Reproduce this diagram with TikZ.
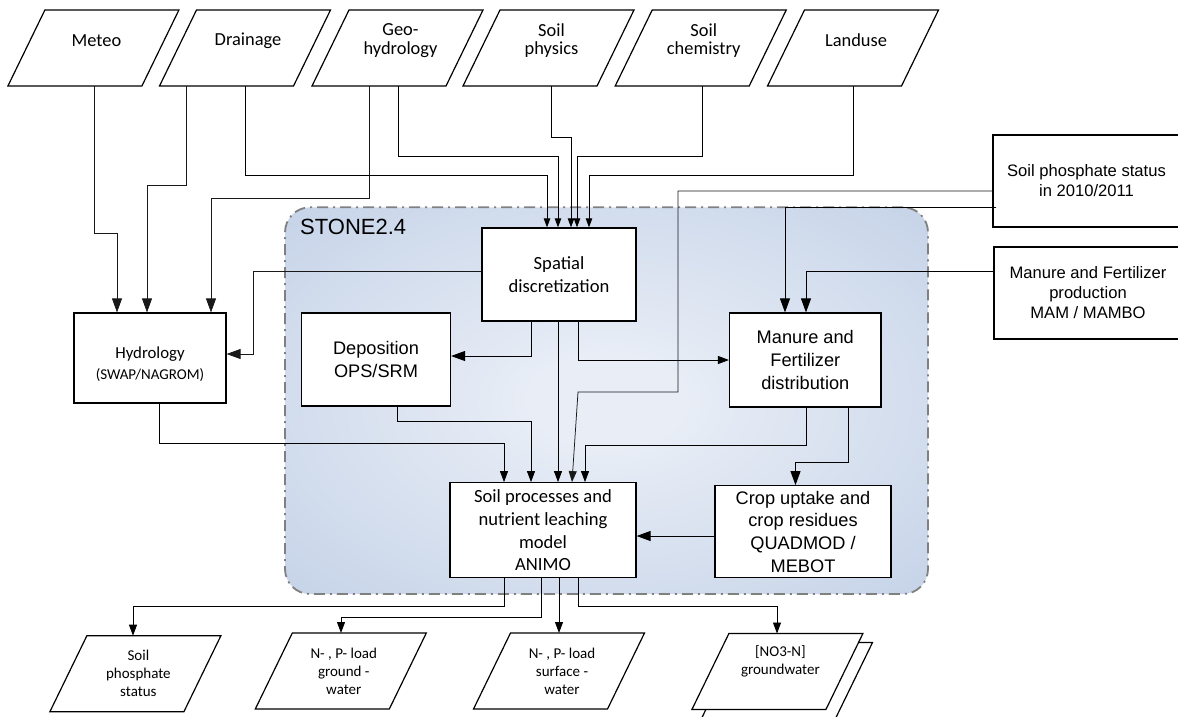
\documentclass[tikz,border=0pt]{standalone}
\usepackage{fontspec}
\newfontfamily\calfont{Carlito}
\newfontfamily\arifont{Liberation Sans}
\usetikzlibrary{arrows.meta,backgrounds}
\definecolor{stoneedge}{HTML}{B0C3DF}
\definecolor{stonemid}{HTML}{E8EDF6}
\definecolor{dashgray}{HTML}{808080}
\pgfdeclareradialshading{stoneshade}{\pgfpointorigin}{color(0bp)=(stonemid); color(6bp)=(stonemid); color(54bp)=(stoneedge); color(72bp)=(stoneedge)}
\tikzset{
  para/.style={minimum width=134pt, minimum height=76pt, inner sep=0pt, outer sep=0pt},
  pline/.style={draw, fill=white, line width=1.2pt},
  ptext/.style={label={[font=\calfont\fontsize{18.4}{18.3}\selectfont, align=center, yshift=7.5pt, xshift=3pt]center:#1}},
  otext/.style={label={[font=\calfont\fontsize{15}{18}\selectfont, align=center, xshift=3pt]center:#1}},
  box/.style={draw, line width=1.2pt, fill=white, inner sep=2pt, align=center},
  calbox/.style={box, font=\calfont\fontsize{18.6}{22.8}\selectfont},
  aribox/.style={box, font=\arifont\fontsize{18.2}{22.7}\selectfont},
  aribox2/.style={box, font=\arifont\fontsize{16.6}{20}\selectfont},
  conn/.style={line width=0.9pt, black},
  thinl/.style={line width=0.75pt, black!90},
  bigarrow/.style={-{Triangle[length=14pt,width=10pt]}},
  medarrow/.style={-{Triangle[length=11pt,width=8pt]}},
  smallarrow/.style={-{Triangle[length=9pt,width=6.5pt]}},
}
\newcommand{\parashape}[1]{%
  \draw[pline] ([xshift=-18.5pt]#1.south west) -- ([xshift=-18.5pt]#1.south east)
    -- ([xshift=18.5pt]#1.north east) -- ([xshift=18.5pt]#1.north west) -- cycle;}
\begin{document}
\begin{tikzpicture}[x=1pt,y=-1pt]
\useasboundingbox (0,0) rectangle (1178,716);

% container
\node[draw=dashgray, line width=1.8pt, dash pattern=on 11pt off 5pt on 2pt off 5pt,
  rounded corners=25pt, shading=stoneshade, minimum width=643pt, minimum height=386.7pt,
  inner sep=0pt] (stone) at (606.5,400.65) {};
\node[anchor=west, inner sep=0pt, font=\arifont\fontsize{22}{26}\selectfont] (stonelabel) at (300,227) {STONE2.4};

% top inputs
\node[para, ptext={Meteo}] (meteo) at (93.4,48) {};
\node[para, ptext={Drainage}] (drain) at (245,48) {};
\node[para, ptext={Geo-\\hydrology}] (geo) at (397.5,48) {};
\node[para, ptext={Soil\\physics}] (soilp) at (548.5,48) {};
\node[para, ptext={Soil\\chemistry}] (soilc) at (700.7,48) {};
\node[para, ptext={Landuse}] (land) at (853,48) {};

% boxes
\node[box, minimum width=152pt, minimum height=90pt,
  label={[font=\calfont\fontsize{16.8}{20.5}\selectfont, align=center, yshift=-6pt]center:Hydrology\\{\fontsize{15}{18}\selectfont(SWAP/NAGROM)}}] (hydro) at (150,358) {};
\node[aribox, minimum width=149pt, minimum height=93pt] (depo) at (376,359.4) {Deposition\\OPS/SRM};
\node[calbox, minimum width=154pt, minimum height=93pt] (spatial) at (559,274.4) {Spatial\\discretization};
\node[aribox, minimum width=151.5pt, minimum height=94pt] (mdist) at (805.3,360) {Manure and\\Fertilizer\\distribution};
\node[calbox, minimum width=186pt, minimum height=95pt] (animo) at (543,530.2) {Soil processes and\\nutrient leaching\\model\\ANIMO};
\node[aribox, minimum width=176pt, minimum height=92pt] (crop) at (803,531.7) {Crop uptake and\\crop residues\\QUADMOD /\\MEBOT};
\node[aribox2, minimum width=187pt, minimum height=92pt] (phos) at (1086.5,181) {Soil phosphate status\\in 2010/2011};
\node[aribox2, minimum width=188pt, minimum height=92pt] (mprod) at (1088,293) {Manure and Fertilizer\\production\\MAM / MAMBO};

% outputs
\node[para] (outnoback) at (787,680.5) {};
\node[para, otext={Soil\\phosphate\\status}] (outsoil) at (135.4,673.7) {};
\node[para, otext={N- , P- load\\ground -\\water}] (outgw) at (340.8,671) {};
\node[para, otext={N- , P- load\\surface -\\water}] (outsw) at (559,671) {};
\node[para, label={[font=\calfont\fontsize{15}{18}\selectfont, align=center, xshift=3pt, yshift=10pt]center:{[NO3-N]\\groundwater}}] (outno) at (777.4,671.5) {};

% parallelogram outlines behind the texts
\begin{pgfonlayer}{background}
\fill[white] (0,0) rectangle (1178,716);
\parashape{meteo}
\parashape{drain}
\parashape{geo}
\parashape{soilp}
\parashape{soilc}
\parashape{land}
\parashape{outsoil}
\parashape{outgw}
\parashape{outsw}
\parashape{outnoback}
\parashape{outno}
\end{pgfonlayer}

% inputs to hydrology
\draw[thinl, bigarrow] (meteo.south -| 94,0) |- (117,233) -- (hydro.north -| 117,0);
\draw[thinl, bigarrow] (drain.south -| 186,0) |- (147,185) -- (hydro.north -| 147,0);
\draw[thinl, bigarrow] (geo.south -| 369,0) |- (211,198) -- (hydro.north -| 211,0);
% inputs to spatial
\draw[conn, smallarrow] (drain.south -| 245,0) |- (547,175) -- (spatial.north -| 547,0);
\draw[conn, smallarrow] (geo.south -| 398,0) |- (558,156) -- (spatial.north -| 558,0);
\draw[conn, smallarrow] (soilp.south -| 551,0) |- (571,137) -- (spatial.north -| 571,0);
\draw[conn, smallarrow] (soilc.south -| 702,0) |- (577,156) -- (spatial.north -| 577,0);
\draw[conn, smallarrow] (land.south -| 853,0) |- (589,175) -- (spatial.north -| 589,0);
% from spatial
\draw[thinl, bigarrow] (spatial.west |- 0,271) -| (253,354) -- (hydro.east |- 0,354);
\draw[conn, bigarrow] (spatial.south -| 531,0) |- (depo.east |- 0,356);
\draw[conn, medarrow] (spatial.south -| 558,0) -- (animo.north -| 558,0);
\draw[conn, medarrow] (spatial.south -| 578,0) |- (mdist.west |- 0,360);
% phosphate and manure production
\draw[thinl, medarrow] (phos.west |- 0,191) -| (678,392) -- (578,392) -- (animo.north -| 572,0);
\draw[conn, bigarrow] ([xshift=4pt]phos.west |- 0,207) -| (mdist.north -| 785,0);
\draw[conn, bigarrow] (mprod.west |- 0,271) -| (mdist.north -| 806,0);
% manure distribution
\draw[conn, medarrow] (mdist.south -| 806,0) |- (585,445) -- (animo.north -| 585,0);
\draw[conn, bigarrow] (mdist.south -| 848,0) |- (795.5,462) -- (crop.north -| 795.5,0);
\draw[conn, bigarrow] (crop.west |- 0,536) -- (animo.east |- 0,536);
% deposition and hydrology to animo
\draw[conn, medarrow] (depo.south -| 397,0) |- (531,421) -- (animo.north -| 531,0);
\draw[conn, medarrow] (hydro.south -| 159,0) |- (504,443) -- (animo.north -| 504,0);
% outputs
\draw[conn, medarrow] (animo.south -| 504,0) |- (133,606) -- (outsoil.north -| 133,0);
\draw[conn, medarrow] (animo.south -| 541,0) |- (341,617) -- (outgw.north -| 341,0);
\draw[conn, medarrow] (animo.south -| 559,0) -- (outsw.north -| 559,0);
\draw[conn, medarrow] (animo.south -| 578,0) |- (777,606) -- (outno.north -| 777,0);
\end{tikzpicture}
\end{document}
